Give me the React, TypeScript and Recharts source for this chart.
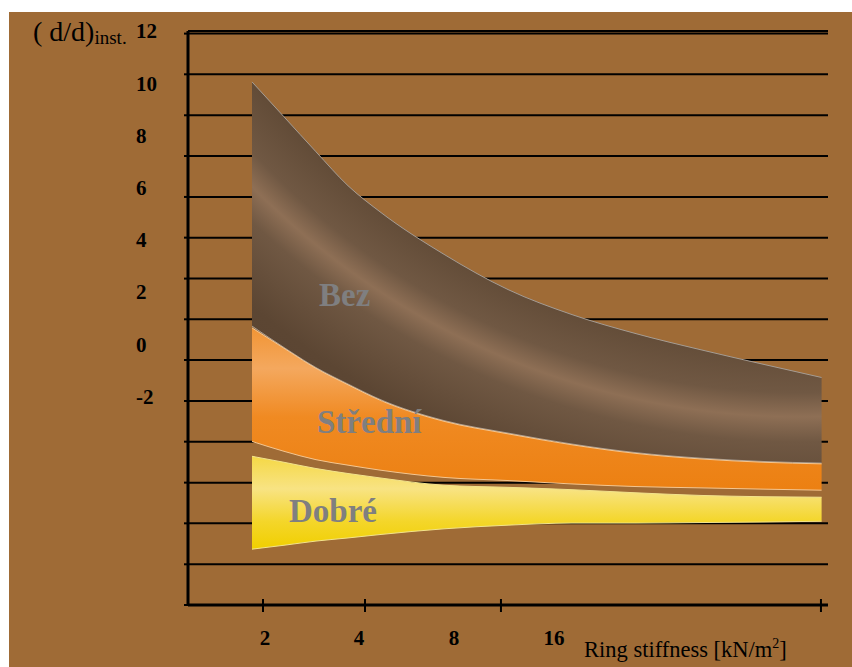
import React from 'react';
import { ComposedChart, Area, XAxis, YAxis, CartesianGrid } from 'recharts';

// x position along the ring-stiffness axis (axis units 0..100)
const xPos = [10, 15, 20, 25, 30, 40, 50, 60, 70, 80, 90, 99];

// deflection band limits
const bezHigh = [10.05, 8.71, 7.37, 6.07, 5.07, 3.44, 2.09, 1.13, 0.4, -0.21, -0.78, -1.28];
const bezLow = [0.69, -0.13, -0.9, -1.53, -2.12, -2.93, -3.41, -3.83, -4.16, -4.37, -4.5, -4.56];
const stredniHigh = [0.62, -0.16, -0.93, -1.56, -2.15, -2.96, -3.44, -3.86, -4.19, -4.4, -4.53, -4.59];
const stredniLow = [-3.73, -4.11, -4.43, -4.64, -4.83, -5.11, -5.23, -5.36, -5.46, -5.51, -5.56, -5.6];
const dobreHigh = [-4.3, -4.53, -4.77, -4.96, -5.13, -5.41, -5.49, -5.58, -5.7, -5.8, -5.85, -5.87];
const dobreLow = [-7.86, -7.71, -7.55, -7.43, -7.3, -7.08, -6.94, -6.86, -6.86, -6.84, -6.82, -6.79];

// axis ticks
const yLabelValues = [12, 10, 8, 6, 4, 2, 0, -2];
const gridValues = [-10, -8.44, -6.87, -5.31, -3.74, -2.18, -0.61, 0.95, 2.51, 4.08, 5.64, 7.21, 8.77, 10.34, 11.9];
const xTickMarks = [11.72, 27.66, 48.9, 98.9];
const xLabelPos = [12.03, 26.72, 41.56, 57.19];
const xLabels = ['2', '4', '8', '16'];

const data = xPos.map((x, i) => ({
  x,
  bez: [bezLow[i], bezHigh[i]],
  stredni: [stredniLow[i], stredniHigh[i]],
  dobre: [dobreLow[i], dobreHigh[i]],
}));

const FONT = '"Liberation Serif", "Times New Roman", serif';
const EmptyTick = () => <g />;

export default function App() {
  return (
    <div style={{ position: 'absolute', left: 0, top: 0, width: 852, height: 667, background: '#ffffff' }}>
      <div style={{ position: 'absolute', left: 9, top: 12, width: 843, height: 655, background: '#9f6b36' }} />
      <div style={{ position: 'absolute', left: 0, top: 0 }}>
        <ComposedChart width={852} height={667} data={data} margin={{ top: 31, right: 24, bottom: 12, left: 0 }}>
          <defs>
            <radialGradient id="gBez" gradientUnits="userSpaceOnUse" cx={800} cy={-350} r={900}>
              <stop offset="0" stopColor="#5b4532" />
              <stop offset="0.76" stopColor="#5e4834" />
              <stop offset="0.825" stopColor="#705843" />
              <stop offset="0.852" stopColor="#8e6f55" />
              <stop offset="0.88" stopColor="#705843" />
              <stop offset="0.95" stopColor="#5c4633" />
              <stop offset="1" stopColor="#5a4432" />
            </radialGradient>
            <linearGradient id="gStredni" x1="0" y1="0" x2="0" y2="1">
              <stop offset="0" stopColor="#f19535" />
              <stop offset="0.25" stopColor="#f4a85e" />
              <stop offset="0.55" stopColor="#f08a22" />
              <stop offset="1" stopColor="#ec8012" />
            </linearGradient>
            <linearGradient id="gDobre" x1="0" y1="0" x2="0" y2="1">
              <stop offset="0" stopColor="#f5d845" />
              <stop offset="0.35" stopColor="#f8e383" />
              <stop offset="0.7" stopColor="#f4d62a" />
              <stop offset="1" stopColor="#f0cf00" />
            </linearGradient>
          </defs>
          <CartesianGrid xAxisId="a_ticks" yAxisId="a_grid" vertical={false} stroke="#000" strokeWidth={2} />
          <XAxis
            xAxisId="a_ticks"
            type="number"
            dataKey="x"
            domain={[0, 100]}
            ticks={xTickMarks}
            interval={0}
            tick={EmptyTick}
            tickSize={13}
            tickLine={{ stroke: '#000', strokeWidth: 2, transform: 'translate(0,-6)' }}
            axisLine={{ stroke: '#000', strokeWidth: 3 }}
            height={20}
          />
          <XAxis
            xAxisId="b_labels"
            type="number"
            dataKey="x"
            domain={[0, 100]}
            ticks={xLabelPos}
            interval={0}
            tickFormatter={(v: number, i: number) => xLabels[i]}
            axisLine={false}
            tickLine={false}
            tickSize={0}
            tickMargin={5}
            tick={{ fill: '#000', fontSize: 21, fontWeight: 'bold', fontFamily: FONT }}
            height={30}
          />
          <YAxis
            yAxisId="a_grid"
            type="number"
            dataKey={(d: any) => d.bez[1]}
            domain={[-10, 12]}
            allowDataOverflow
            ticks={gridValues}
            interval={0}
            tick={EmptyTick}
            tickSize={4}
            tickLine={{ stroke: '#000', strokeWidth: 2 }}
            axisLine={{ stroke: '#000', strokeWidth: 3 }}
            width={52}
          />
          <YAxis
            yAxisId="b_labels"
            type="number"
            dataKey={(d: any) => d.bez[1]}
            domain={[-10, 12]}
            allowDataOverflow
            ticks={yLabelValues}
            interval={0}
            axisLine={false}
            tickLine={false}
            tickSize={0}
            tickMargin={0}
            tick={{ fill: '#000', fontSize: 21, fontWeight: 'bold', fontFamily: FONT, textAnchor: 'start' }}
            width={136}
          />
          <Area xAxisId="a_ticks" yAxisId="a_grid" type="monotone" dataKey="bez" fill="url(#gBez)" fillOpacity={1} stroke="#a59c93" strokeWidth={1} isAnimationActive={false} />
          <Area xAxisId="a_ticks" yAxisId="a_grid" type="monotone" dataKey="stredni" fill="url(#gStredni)" fillOpacity={1} stroke="#f5c690" strokeWidth={1} isAnimationActive={false} />
          <Area xAxisId="a_ticks" yAxisId="a_grid" type="monotone" dataKey="dobre" fill="url(#gDobre)" fillOpacity={1} stroke="#f3e38c" strokeWidth={1} isAnimationActive={false} />
        </ComposedChart>
      </div>
      <svg width={852} height={667} style={{ position: 'absolute', left: 0, top: 0, pointerEvents: 'none' }}>
        <text x={33} y={41} fontFamily={FONT} fontSize={28} fill="#000">
          ( d/d)<tspan fontSize={19} dy={3}>inst.</tspan>
        </text>
        <text x={319} y={306} fontFamily={FONT} fontSize={33} fontWeight="bold" fill="#7f7f80">Bez</text>
        <text x={317} y={433} fontFamily={FONT} fontSize={33} fontWeight="bold" fill="#7f7f80">Střední</text>
        <text x={289} y={522} fontFamily={FONT} fontSize={33} fontWeight="bold" fill="#7f7f80">Dobré</text>
        <text x={584} y={657} fontFamily={FONT} fontSize={22.5} fill="#000">
          Ring stiffness [kN/m<tspan fontSize={14} dy={-9}>2</tspan><tspan fontSize={22.5} dy={9}>]</tspan>
        </text>
      </svg>
    </div>
  );
}
